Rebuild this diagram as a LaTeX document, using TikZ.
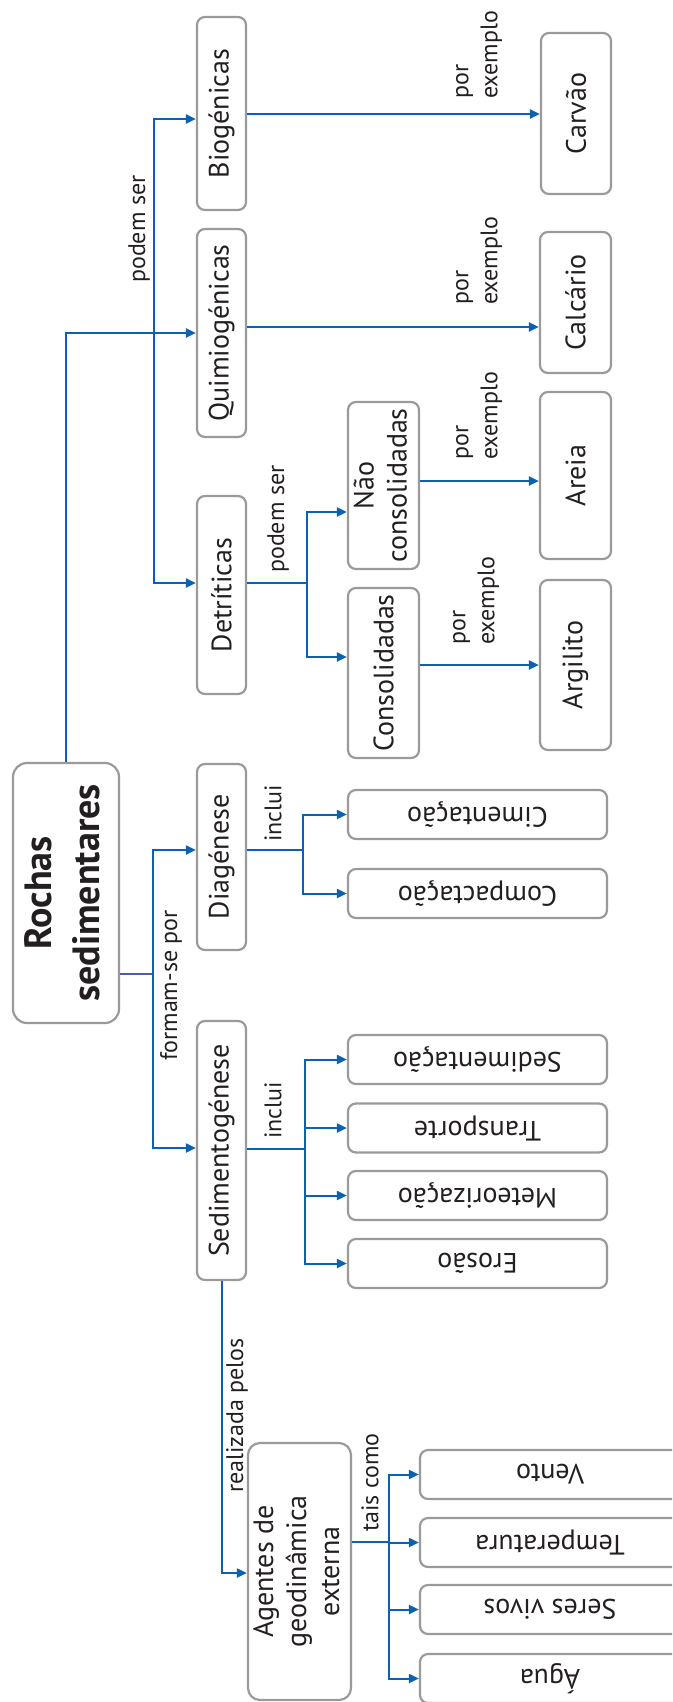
\documentclass[tikz,border=0pt]{standalone}
\usepackage{fontspec}
\setmainfont{PT Sans}
\usetikzlibrary{arrows.meta}
\definecolor{lnblue}{HTML}{0B62B0}
\definecolor{rootln}{HTML}{4C5DA8}
\definecolor{bordergray}{HTML}{9A9A9A}
\definecolor{txt}{HTML}{231F20}
\begin{document}
\begin{tikzpicture}[x=1pt,y=-1pt,
  box/.style={draw=bordergray, line width=2.2pt, rounded corners=8pt, inner sep=0pt,
    text=txt, font=\fontsize{28}{33}\selectfont, align=center},
  vbox/.style={box, minimum width=49pt},
  mbox/.style={box, minimum width=71pt},
  hbox/.style={box, minimum width=259pt, minimum height=49pt},
  abox/.style={box, minimum width=260pt, minimum height=49pt},
  lbl/.style={rotate=90, anchor=west, align=left, inner sep=0pt, text=txt,
    font=\fontsize{24}{29}\selectfont},
  ln/.style={draw=lnblue, line width=2pt},
  arr/.style={ln, -{Triangle[length=10pt,width=9pt]}},
  rootline/.style={draw=rootln, line width=2pt}]
\useasboundingbox (0,0) rectangle (672,1702);
\clip (0,0) rectangle (672,1702);

% root
\node[box, rounded corners=14pt, minimum width=106pt, minimum height=260pt,
  font=\fontsize{38}{48}\bfseries] (root) at (66,893)
  {\rotatebox{90}{\begin{tabular}{@{}c@{}}Rochas\\sedimentares\end{tabular}}};

% first level
\node[vbox, minimum height=193pt] (bio) at (221.5,113.5) {\rotatebox{90}{Biogénicas}};
\node[vbox, minimum height=208pt] (quim) at (221.5,333) {\rotatebox{90}{Quimiogénicas}};
\node[vbox, minimum height=198pt] (det) at (221.5,595) {\rotatebox{90}{Detríticas}};
\node[vbox, minimum height=186pt] (diag) at (221.5,857) {\rotatebox{90}{Diagénese}};
\node[vbox, minimum height=259pt] (sedim) at (221.5,1150.5) {\rotatebox{90}{Sedimentogénese}};

% detriticas children
\node[mbox, minimum height=167pt] (nao) at (383.5,485.5)
  {\rotatebox{90}{\begin{tabular}{@{}c@{}}Não\\consolidadas\end{tabular}}};
\node[mbox, minimum height=170pt] (cons) at (383.5,673) {\rotatebox{90}{Consolidadas}};

% examples
\node[box, minimum width=70pt, minimum height=161pt] (carv) at (576,113.5) {\rotatebox{90}{Carvão}};
\node[box, minimum width=71pt, minimum height=141pt] (calc) at (575.5,302.5) {\rotatebox{90}{Calcário}};
\node[box, minimum width=71pt, minimum height=167pt] (areia) at (575.5,475.5) {\rotatebox{90}{Areia}};
\node[box, minimum width=71pt, minimum height=170pt] (argi) at (575.5,665) {\rotatebox{90}{Argilito}};

% processes
\node[hbox] (cim) at (477.5,814.5) {\rotatebox{180}{Cimentação}};
\node[hbox] (comp) at (477.5,893.5) {\rotatebox{180}{Compactação}};
\node[hbox] (sedi) at (477.5,1059.5) {\rotatebox{180}{Sedimentação}};
\node[hbox] (trans) at (477.5,1128) {\rotatebox{180}{Transporte}};
\node[hbox] (meteo) at (477.5,1195.5) {\rotatebox{180}{Meteorização}};
\node[hbox] (eros) at (477.5,1263.5) {\rotatebox{180}{Erosão}};

% agents
\node[box, rounded corners=12pt, minimum width=103pt, minimum height=257pt] (agent) at (299.5,1571.5)
  {\rotatebox{90}{\begin{tabular}{@{}c@{}}Agentes de\\geodinâmica\\externa\end{tabular}}};
\node[abox] (vento) at (550,1474.5) {\rotatebox{180}{Vento}};
\node[abox] (temp) at (550,1542.5) {\rotatebox{180}{Temperatura}};
\node[abox] (seres) at (550,1609.5) {\rotatebox{180}{Seres vivos}};
\node[abox] (agua) at (550,1678.5) {\rotatebox{180}{Água}};

% labels
\node[lbl] (l1) at (139,283) {podem ser};
\node[lbl] (l2) at (171,1061) {formam-se por};
\node[lbl] (l3) at (278,573) {podem ser};
\node[lbl] (l4) at (273,842) {inclui};
\node[lbl] (l5) at (273,1139) {inclui};
\node[lbl] (l6) at (237,1493) {realizada pelos};
\node[lbl] (l7) at (370,1532) {tais como};
\node[lbl] (e1) at (479,99) {por\\exemplo};
\node[lbl] (e2) at (479,305) {por\\exemplo};
\node[lbl] (e3) at (479,460) {por\\exemplo};
\node[lbl] (e4) at (476,645) {por\\exemplo};

% connectors: root -> types
\coordinate (busR) at (154,333);
\draw[ln] (root.north) |- (busR);
\draw[arr] (busR) |- (bio.west |- 0,119);
\draw[arr] (busR) -- (quim.west);
\draw[arr] (busR) |- (det.west |- 0,583);

% root -> processes
\coordinate (busF) at (153,974);
\draw[rootline] (root.east |- busF) -- (busF);
\draw[arr] (busF) |- (diag.west |- 0,850);
\draw[arr] (busF) |- (sedim.west |- 0,1148);

% detriticas fork
\coordinate (busT) at (307,583);
\draw[ln] (det.east |- busT) -- (busT);
\draw[arr] (busT) |- (nao.west |- 0,512);
\draw[arr] (busT) |- (cons.west |- 0,657);

% examples
\draw[arr] (bio.east |- 0,114) -- (carv.west |- 0,114);
\draw[arr] (quim.east |- 0,327) -- (calc.west |- 0,327);
\draw[arr] (nao.east |- 0,481) -- (areia.west |- 0,481);
\draw[arr] (cons.east |- 0,665) -- (argi.west |- 0,665);

% diagenese fork
\coordinate (busD) at (303,850);
\draw[ln] (diag.east |- busD) -- (busD);
\draw[arr] (busD) |- (cim.west);
\draw[arr] (busD) |- (comp.west);

% sedimentogenese fork
\coordinate (busS) at (305,1149);
\draw[ln] (sedim.east |- busS) -- (busS);
\draw[arr] (busS) |- (sedi.west);
\draw[arr] (busS) |- (trans.west);
\draw[arr] (busS) |- (meteo.west);
\draw[arr] (busS) |- (eros.west);

% sedimentogenese -> agents
\draw[arr] (sedim.south) |- (agent.west |- 0,1573);

% agents fork
\coordinate (busA) at (389,1542);
\draw[ln] (agent.east |- busA) -- (busA);
\draw[arr] (busA) |- (vento.west);
\draw[arr] (busA) |- (temp.west);
\draw[arr] (busA) |- (seres.west);
\draw[arr] (busA) |- (agua.west);
\end{tikzpicture}
\end{document}
